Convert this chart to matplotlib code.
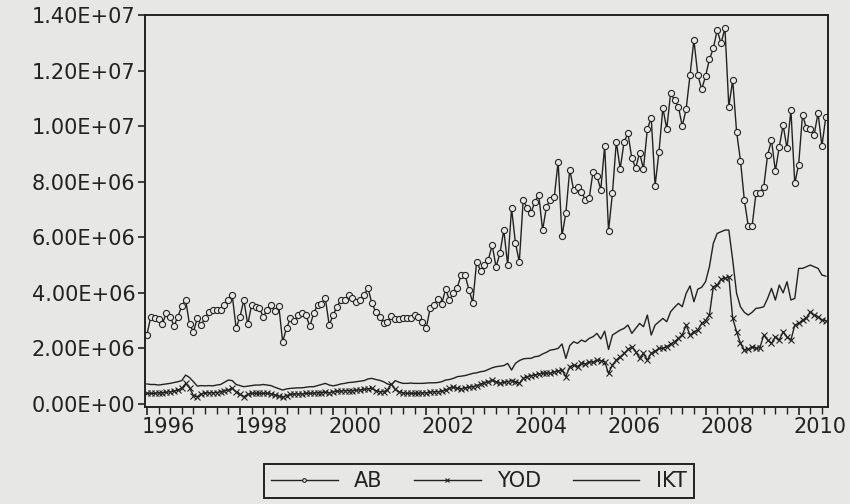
import numpy as np
import matplotlib
matplotlib.use("Agg")
import matplotlib.pyplot as plt
import matplotlib.transforms as mtransforms
from matplotlib.ticker import FixedLocator, MultipleLocator, NullFormatter

# monthly series, 1996M01 onward, in millions
ab = [2.48, 3.14, 3.08, 3.05, 2.88, 3.27, 3.14, 2.81, 3.14, 3.53,
      3.74, 2.86, 2.60, 3.08, 2.84, 3.10, 3.32, 3.38, 3.38, 3.38,
      3.56, 3.74, 3.92, 2.73, 3.14, 3.74, 2.86, 3.56, 3.50, 3.44,
      3.14, 3.38, 3.56, 3.36, 3.53, 2.24, 2.73, 3.08, 2.97, 3.20,
      3.27, 3.20, 2.79, 3.27, 3.56, 3.59, 3.80, 2.84, 3.20, 3.50,
      3.74, 3.74, 3.92, 3.80, 3.68, 3.74, 3.92, 4.17, 3.62, 3.32,
      3.14, 2.91, 2.94, 3.17, 3.06, 3.05, 3.08, 3.08, 3.08, 3.20,
      3.14, 2.94, 2.72, 3.44, 3.56, 3.77, 3.61, 4.13, 3.74, 3.98,
      4.19, 4.64, 4.64, 4.12, 3.65, 5.12, 4.80, 5.00, 5.18, 5.72,
      4.94, 5.42, 6.26, 5.00, 7.05, 5.79, 5.12, 7.34, 7.05, 6.87,
      7.28, 7.52, 6.26, 7.10, 7.36, 7.44, 8.72, 6.05, 6.88, 8.44,
      7.70, 7.80, 7.64, 7.36, 7.40, 8.36, 8.20, 7.72, 9.28, 6.24,
      7.58, 9.44, 8.46, 9.44, 9.74, 8.84, 8.50, 9.04, 8.46, 9.90,
      10.30, 7.86, 9.08, 10.66, 9.90, 11.20, 10.94, 10.70, 10.00, 10.62,
      11.84, 13.10, 11.86, 11.33, 11.80, 12.41, 12.80, 13.46, 12.98, 13.54,
      10.70, 11.66, 9.80, 8.76, 7.34, 6.42, 6.40, 7.58, 7.60, 7.82,
      8.96, 9.50, 8.38, 9.26, 10.04, 9.20, 10.58, 7.94, 8.62, 10.42,
      9.92, 9.90, 9.70, 10.48, 9.28, 10.34]

yod = [0.38, 0.38, 0.38, 0.40, 0.40, 0.42, 0.44, 0.46, 0.50, 0.56,
       0.74, 0.58, 0.30, 0.26, 0.36, 0.40, 0.40, 0.40, 0.41, 0.44,
       0.48, 0.50, 0.56, 0.44, 0.34, 0.26, 0.34, 0.38, 0.38, 0.38,
       0.38, 0.38, 0.36, 0.32, 0.28, 0.24, 0.30, 0.34, 0.36, 0.36,
       0.36, 0.38, 0.38, 0.39, 0.40, 0.41, 0.42, 0.40, 0.44, 0.46,
       0.46, 0.48, 0.48, 0.48, 0.50, 0.50, 0.52, 0.54, 0.56, 0.48,
       0.44, 0.44, 0.50, 0.72, 0.52, 0.44, 0.40, 0.38, 0.38, 0.38,
       0.38, 0.40, 0.40, 0.42, 0.44, 0.44, 0.46, 0.50, 0.56, 0.60,
       0.56, 0.54, 0.58, 0.60, 0.62, 0.66, 0.72, 0.76, 0.80, 0.86,
       0.80, 0.74, 0.78, 0.80, 0.84, 0.80, 0.74, 0.92, 0.98, 1.02,
       1.04, 1.08, 1.10, 1.12, 1.10, 1.16, 1.18, 1.22, 0.98, 1.34,
       1.40, 1.34, 1.46, 1.44, 1.52, 1.50, 1.58, 1.56, 1.52, 1.10,
       1.40, 1.58, 1.70, 1.82, 1.96, 2.06, 1.88, 1.64, 1.82, 1.58,
       1.82, 1.90, 2.00, 2.00, 2.06, 2.16, 2.24, 2.36, 2.48, 2.84,
       2.48, 2.60, 2.66, 2.90, 3.00, 3.20, 4.22, 4.28, 4.49, 4.52,
       4.58, 3.08, 2.60, 2.18, 1.94, 1.96, 2.06, 2.00, 2.02, 2.48,
       2.30, 2.18, 2.42, 2.30, 2.60, 2.40, 2.30, 2.84, 2.90, 3.02,
       3.10, 3.32, 3.20, 3.14, 3.02, 3.00]

ikt = [0.72, 0.70, 0.70, 0.68, 0.70, 0.72, 0.74, 0.77, 0.80, 0.84,
       1.04, 0.95, 0.80, 0.64, 0.66, 0.65, 0.66, 0.65, 0.68, 0.70,
       0.78, 0.86, 0.84, 0.70, 0.66, 0.62, 0.64, 0.66, 0.68, 0.68,
       0.70, 0.68, 0.66, 0.60, 0.55, 0.50, 0.54, 0.56, 0.57, 0.58,
       0.58, 0.60, 0.62, 0.62, 0.66, 0.70, 0.74, 0.68, 0.65, 0.68,
       0.72, 0.74, 0.77, 0.78, 0.80, 0.82, 0.84, 0.90, 0.92, 0.88,
       0.85, 0.80, 0.72, 0.68, 0.84, 0.78, 0.74, 0.74, 0.75, 0.74,
       0.74, 0.74, 0.75, 0.76, 0.76, 0.77, 0.80, 0.86, 0.88, 0.92,
       0.98, 1.00, 1.02, 1.06, 1.10, 1.12, 1.16, 1.18, 1.24, 1.30,
       1.34, 1.36, 1.38, 1.46, 1.22, 1.46, 1.56, 1.62, 1.64, 1.64,
       1.70, 1.72, 1.80, 1.86, 1.94, 1.96, 2.00, 2.16, 1.64, 2.10,
       2.24, 2.18, 2.30, 2.24, 2.36, 2.42, 2.54, 2.34, 2.62, 1.96,
       2.48, 2.57, 2.66, 2.72, 2.84, 2.54, 2.72, 2.90, 2.78, 3.20,
       2.48, 2.84, 2.96, 3.08, 2.96, 3.32, 3.48, 3.62, 3.50, 3.98,
       4.25, 3.68, 4.13, 4.20, 4.40, 4.94, 5.78, 6.14, 6.20, 6.26,
       6.26, 5.18, 3.98, 3.50, 3.30, 3.20, 3.30, 3.44, 3.46, 3.50,
       3.80, 4.16, 3.74, 4.28, 4.00, 4.40, 3.74, 3.80, 4.88, 4.88,
       4.94, 5.00, 4.94, 4.88, 4.64, 4.60]

year_ticks = [1996, 1998, 2000, 2002, 2004, 2006, 2008, 2010]
y_ticks = [0, 2e6, 4e6, 6e6, 8e6, 1e7, 1.2e7, 1.4e7]

t = 1996 + np.arange(len(ab)) / 12.0
ab_v = np.array(ab) * 1e6
yod_v = np.array(yod) * 1e6
ikt_v = np.array(ikt) * 1e6

bg = "#e7e7e5"
ink = "#222222"

fig = plt.figure(figsize=(8.5, 5.04), dpi=100, facecolor=bg)
ax = fig.add_axes([0.1706, 0.1925, 0.8035, 0.7775], facecolor=bg)

ax.plot(t, ab_v, color=ink, lw=1.0, marker="o", ms=4.4, mfc=bg, mec=ink, mew=0.8, label="AB")
ax.plot(t, yod_v, color=ink, lw=1.0, marker="x", ms=4.0, mec=ink, mew=0.8, label="YOD")
ax.plot(t, ikt_v, color=ink, lw=1.0, label="IKT")

ax.set_xlim(1995.96, 2010.63)
ax.set_ylim(-0.11e6, 1.4e7)

ax.xaxis.set_major_locator(FixedLocator(year_ticks))
ax.xaxis.set_minor_locator(MultipleLocator(0.25))
ax.xaxis.set_major_formatter(NullFormatter())
# year labels start at their tick, EViews style
lab_tr = mtransforms.blended_transform_factory(ax.transData, ax.transAxes) + \
    mtransforms.ScaledTranslation(-5 / 100, -10 / 100, fig.dpi_scale_trans)
for yr in year_ticks:
    ax.text(yr, 0, str(yr), transform=lab_tr, ha="left", va="top",
            fontsize=15, family="DejaVu Sans", color=ink)

ax.set_yticks(y_ticks)
ax.set_yticklabels([f"{v:.2E}" for v in y_ticks], fontsize=15, family="DejaVu Sans", color=ink)

ax.tick_params(axis="x", which="major", direction="out", length=6, width=1.2, colors=ink)
ax.tick_params(axis="x", which="minor", direction="out", length=5, width=1.0, colors=ink)
ax.tick_params(axis="y", direction="out", length=5, width=1.2, pad=2, colors=ink)
for s in ax.spines.values():
    s.set_color(ink)
    s.set_linewidth(1.4)

leg = fig.legend(loc="center", bbox_to_anchor=(0.5635, 0.0456), ncol=3, frameon=True,
                 fancybox=False, edgecolor=ink, facecolor=bg, framealpha=1,
                 prop={"family": "DejaVu Sans", "size": 15}, handlelength=3.2,
                 handletextpad=0.8, columnspacing=1.5, markerscale=0.6,
                 borderpad=0.35, numpoints=1)
leg.get_frame().set_linewidth(1.4)
for txt in leg.get_texts():
    txt.set_color(ink)

fig.savefig("out.png", dpi=100, facecolor=bg)
